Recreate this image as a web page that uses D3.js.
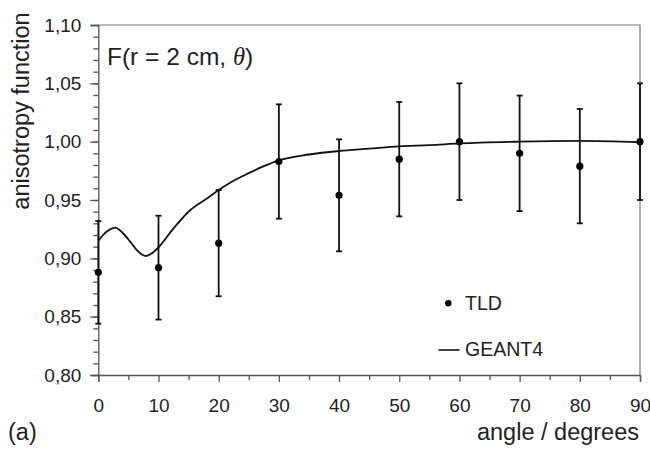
<!DOCTYPE html>
<html>
<head>
<meta charset="utf-8">
<script src="https://cdn.jsdelivr.net/npm/d3@7"></script>
<style>
  html, body { margin: 0; padding: 0; background: #fff; }
  svg { display: block; font-family: "Liberation Sans", Arial, sans-serif; }
</style>
</head>
<body>
<svg id="chart" width="650" height="451"></svg>
<script>
// TLD measurements: angle (degrees), anisotropy value, uncertainty
const tldAngles = [0, 10, 20, 30, 40, 50, 60, 70, 80, 90];
const tldValues = [0.888, 0.892, 0.913, 0.983, 0.954, 0.985, 1.000, 0.990, 0.979, 1.000];
const tldErrors = [0.044, 0.0445, 0.0455, 0.049, 0.048, 0.049, 0.050, 0.0495, 0.049, 0.050];

// GEANT4 simulated anisotropy curve
const g4Angles = [0, 0.8, 1.7, 2.8, 4.1, 5.3, 6.4, 7.9, 8.9, 10, 12.5, 15.3, 18.1, 20, 21.9, 25, 27.5, 30, 35, 40, 45, 50, 55, 60, 70, 80, 90];
const g4Values = [0.915, 0.920, 0.924, 0.9263, 0.9215, 0.9143, 0.9071, 0.902, 0.9043, 0.9095, 0.9257, 0.9414, 0.9515, 0.9586, 0.9648, 0.973, 0.979, 0.984, 0.989, 0.992, 0.994, 0.996, 0.997, 0.9985, 1.000, 1.0006, 0.9995];

const xMajorTicks = [0, 10, 20, 30, 40, 50, 60, 70, 80, 90];
const yMajorTicks = [0.80, 0.85, 0.90, 0.95, 1.00, 1.05, 1.10];

const svg = d3.select("#chart");
const plotLeft = 98.3, plotRight = 640, plotTop = 25, plotBottom = 375;

const x = d3.scaleLinear().domain([0, 90]).range([plotLeft, plotRight]);
const y = d3.scaleLinear().domain([0.80, 1.10]).range([plotBottom, plotTop]);

const commaFmt = v => d3.format(".2f")(v).replace(".", ",");
const axisColor = "#555";

// frame on top and right
svg.append("path")
  .attr("d", `M${plotLeft},${plotTop}H${plotRight}V${plotBottom}`)
  .attr("fill", "none").attr("stroke", "#777").attr("stroke-width", 1.2);

// y axis: major ticks with labels, minor ticks every 0.01
svg.append("g").attr("transform", `translate(${plotLeft},0)`)
  .call(d3.axisLeft(y).tickValues(yMajorTicks).tickFormat(commaFmt).tickSize(8).tickPadding(9));
svg.append("g").attr("transform", `translate(${plotLeft},0)`)
  .call(d3.axisLeft(y).tickValues(d3.range(80, 111, 1).map(d => d / 100)).tickSize(5).tickFormat(""))
  .call(g => g.select(".domain").remove());

// x axis: major ticks every 10, minor every 5
svg.append("g").attr("transform", `translate(0,${plotBottom})`)
  .call(d3.axisBottom(x).tickValues(xMajorTicks).tickFormat(d3.format("d")).tickSize(7).tickPadding(17));
svg.append("g").attr("transform", `translate(0,${plotBottom})`)
  .call(d3.axisBottom(x).tickValues(d3.range(5, 90, 10)).tickSize(5).tickFormat(""))
  .call(g => g.select(".domain").remove());

svg.selectAll(".domain, .tick line").attr("stroke", axisColor).attr("stroke-width", 1.3);
svg.selectAll(".tick text").attr("font-size", 19).attr("fill", "#222")
  .attr("font-family", "Liberation Sans, Arial, sans-serif");

// GEANT4 curve
const line = d3.line().x(d => x(d[0])).y(d => y(d[1])).curve(d3.curveMonotoneX);
svg.append("path")
  .datum(g4Angles.map((a, i) => [a, g4Values[i]]))
  .attr("d", line)
  .attr("fill", "none").attr("stroke", "#111").attr("stroke-width", 1.8);

// TLD error bars and points
const tld = tldAngles.map((a, i) => ({ a, v: tldValues[i], e: tldErrors[i] }));
const bars = svg.append("g").attr("stroke", "#111").attr("stroke-width", 1.8);
bars.selectAll("line.v").data(tld).join("line").attr("class", "v")
  .attr("x1", d => x(d.a)).attr("x2", d => x(d.a))
  .attr("y1", d => y(d.v - d.e)).attr("y2", d => y(d.v + d.e));
bars.selectAll("line.t").data(tld).join("line").attr("class", "t")
  .attr("x1", d => x(d.a) - 3).attr("x2", d => x(d.a) + 3)
  .attr("y1", d => y(d.v + d.e)).attr("y2", d => y(d.v + d.e));
bars.selectAll("line.b").data(tld).join("line").attr("class", "b")
  .attr("x1", d => x(d.a) - 3).attr("x2", d => x(d.a) + 3)
  .attr("y1", d => y(d.v - d.e)).attr("y2", d => y(d.v - d.e));
svg.append("g").selectAll("circle").data(tld).join("circle")
  .attr("cx", d => x(d.a)).attr("cy", d => y(d.v)).attr("r", 3.6).attr("fill", "#000");

// legend
svg.append("circle").attr("cx", 448.3).attr("cy", 303.3).attr("r", 3.2).attr("fill", "#000");
svg.append("text").attr("x", 465).attr("y", 309.5).attr("font-size", 19.5).attr("fill", "#222").text("TLD");
svg.append("line").attr("x1", 438.5).attr("x2", 459.5).attr("y1", 350).attr("y2", 350)
  .attr("stroke", "#111").attr("stroke-width", 1.6);
svg.append("text").attr("x", 465).attr("y", 356).attr("font-size", 19.5).attr("fill", "#222").text("GEANT4");

// in-plot title
const title = svg.append("text").attr("x", 107).attr("y", 64.5).attr("font-size", 24.5).attr("fill", "#222");
title.append("tspan").text("F(r = 2 cm, ");
title.append("tspan").attr("font-family", "Liberation Serif, Times New Roman, serif").attr("font-style", "italic").text("θ");
title.append("tspan").text(")");

// axis titles
svg.append("text").attr("transform", "translate(29,111) rotate(-90)")
  .attr("text-anchor", "middle").attr("font-size", 23.5).attr("fill", "#222").text("anisotropy function");
svg.append("text").attr("x", 639).attr("y", 440).attr("text-anchor", "end")
  .attr("font-size", 23.5).attr("fill", "#222").text("angle / degrees");
svg.append("text").attr("x", 8).attr("y", 440).attr("font-size", 23.5).attr("fill", "#222").text("(a)");
</script>
</body>
</html>
